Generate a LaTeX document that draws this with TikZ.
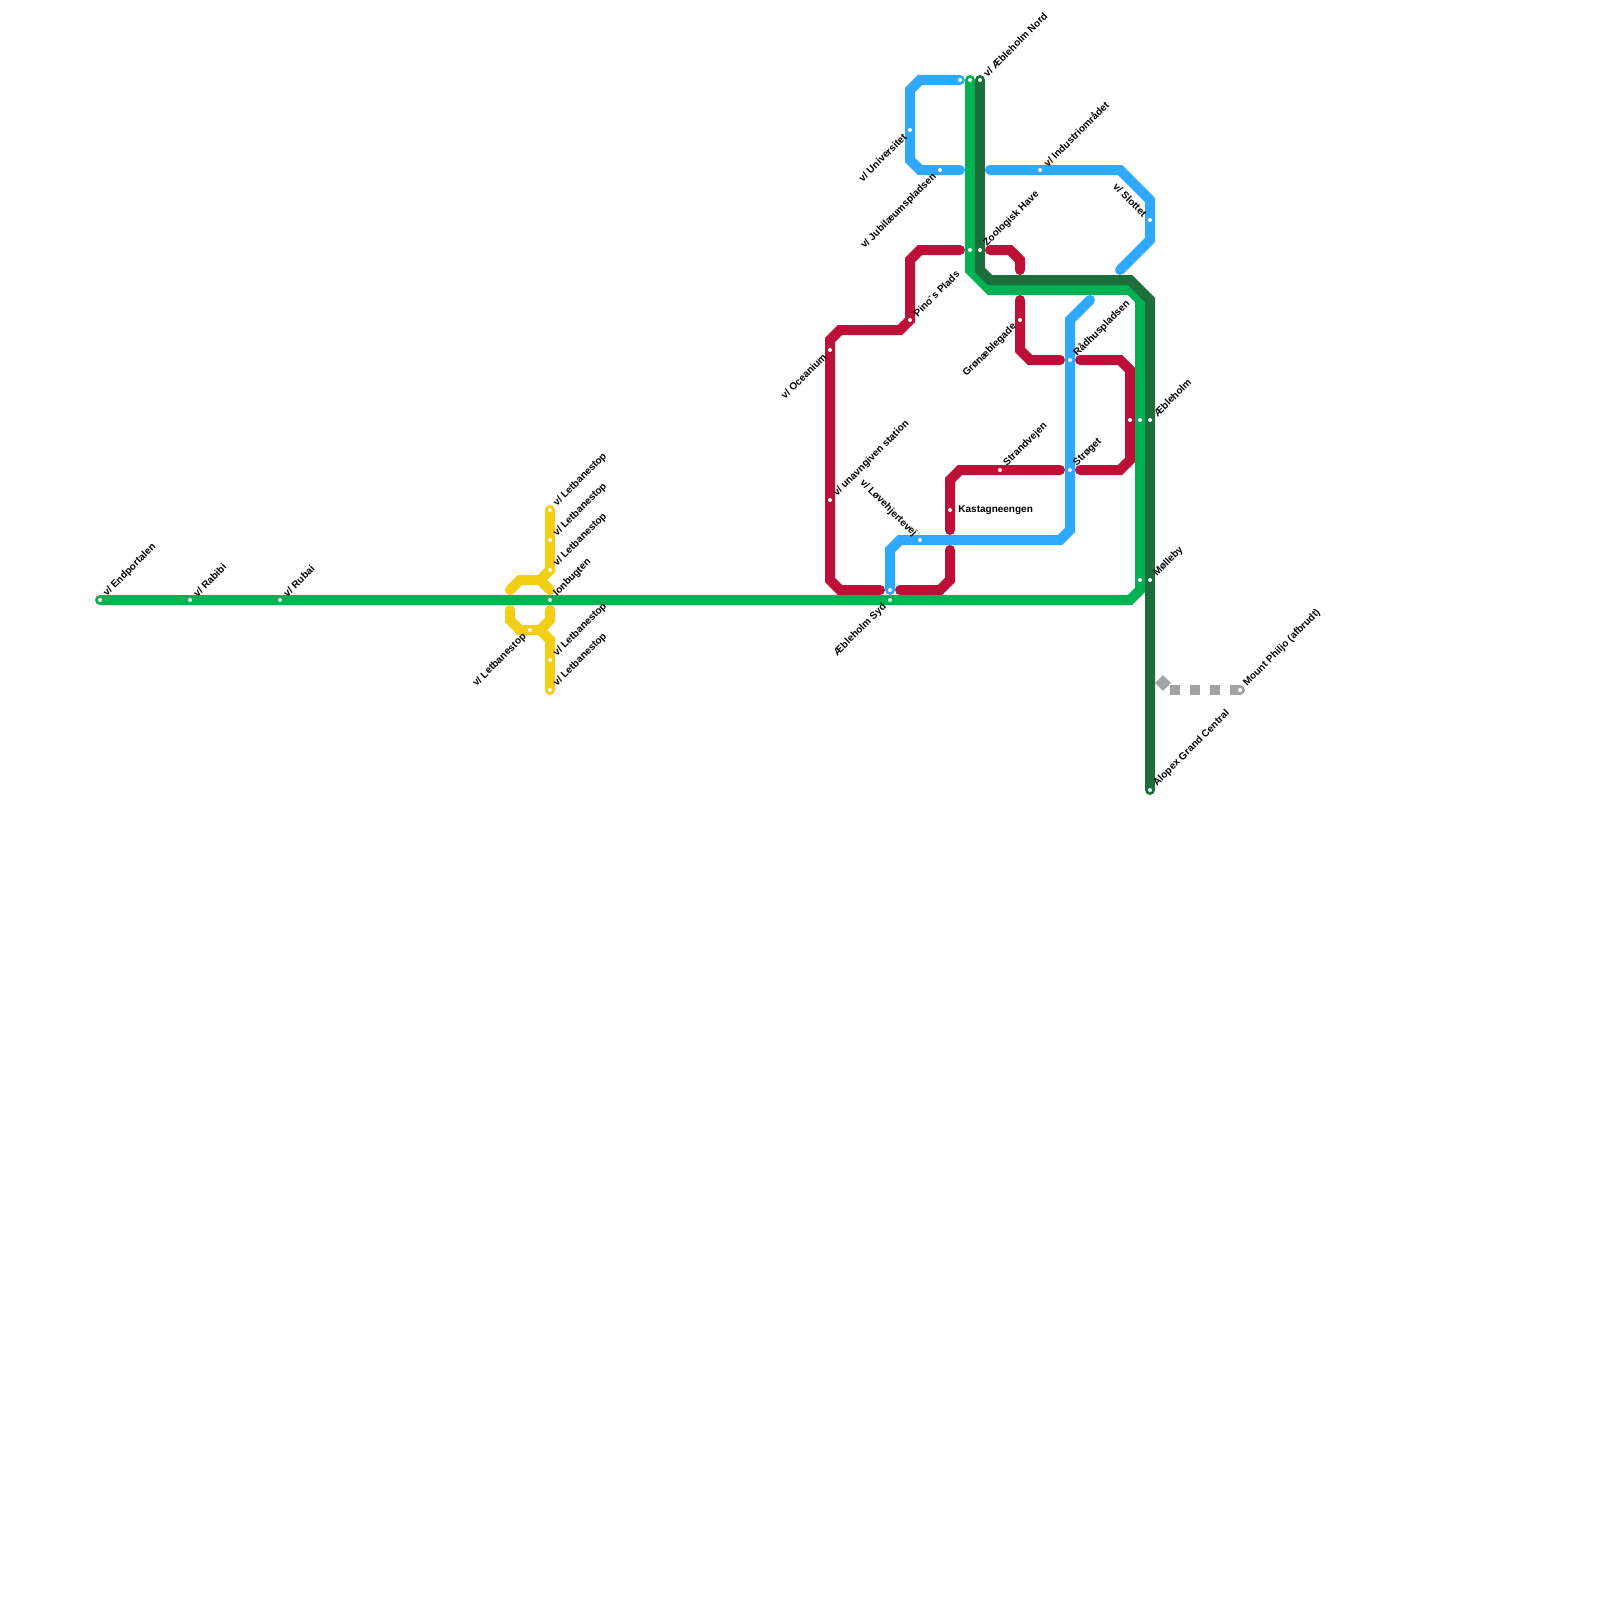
\documentclass[tikz,border=0pt]{standalone}
\usepackage{fontspec}
\setmainfont{Liberation Sans}
\usetikzlibrary{backgrounds,shapes.geometric}
\definecolor{lineGreen}{HTML}{00B251}
\definecolor{lineForest}{HTML}{1C6F3A}
\definecolor{lineBlue}{HTML}{2EA9FF}
\definecolor{lineRed}{HTML}{BD1038}
\definecolor{lineYellow}{HTML}{F2CE14}
\definecolor{lineGrey}{HTML}{A2A2A2}
\tikzset{
  stop/.style={circle,fill=white,inner sep=0pt,minimum size=2pt},
  track/.style={line width=5pt,line cap=round},
  ne/.style={font=\bfseries\fontsize{5}{6}\selectfont,rotate=45,anchor=west,inner sep=0pt,xshift=3.5pt},
  sw/.style={font=\bfseries\fontsize{5}{6}\selectfont,rotate=45,anchor=east,inner sep=0pt,xshift=-3.5pt},
  nw/.style={font=\bfseries\fontsize{5}{6}\selectfont,rotate=-45,anchor=east,inner sep=0pt,xshift=-3.3pt},
  e/.style={font=\bfseries\fontsize{5}{6}\selectfont,anchor=west,inner sep=0pt,xshift=4pt}
}
\begin{document}
\begin{tikzpicture}[x=0.5pt,y=-0.5pt]
  \useasboundingbox (0,0) rectangle (1600,1600);

  % stations
  \node[stop] (Endportalen)  at (100,600)  {};
  \node[stop] (Rabibi)       at (190,600)  {};
  \node[stop] (Rubai)        at (280,600)  {};
  \node[stop] (Ionbugten)    at (550,600)  {};
  \node[stop] (SouthGate)    at (890,600)  {};
  \node[stop] (NordGreen)    at (970,80)   {};
  \node[stop] (ZooGreen)     at (970,250)  {};
  \node[stop] (AebleGreen)   at (1140,420) {};
  \node[stop] (MolleGreen)   at (1140,580) {};
  \node[stop] (NordForest)   at (980,80)   {};
  \node[stop] (ZooForest)    at (980,250)  {};
  \node[stop] (AebleForest)  at (1150,420) {};
  \node[stop] (MolleForest)  at (1150,580) {};
  \node[stop] (Alopex)       at (1150,790) {};
  \node[stop] (NordBlue)     at (960,80)   {};
  \node[stop] (Universitet)  at (910,130)  {};
  \node[stop] (Jubilaeum)    at (940,170)  {};
  \node[stop] (Industri)     at (1040,170) {};
  \node[stop] (Slottet)      at (1150,220) {};
  \node[stop] (Raadhus)      at (1070,360) {};
  \node[stop] (Stroeget)     at (1070,470) {};
  \node[stop] (Loeve)        at (920,540)  {};
  \node[stop] (SouthBlue)    at (890,590)  {};
  \node[stop] (Pino)         at (910,320)  {};
  \node[stop] (Oceanium)     at (830,350)  {};
  \node[stop] (Unavngiven)   at (830,500)  {};
  \node[stop] (Groenne)      at (1020,320) {};
  \node[stop] (AebleRed)     at (1130,420) {};
  \node[stop] (Strandvejen)  at (1000,470) {};
  \node[stop] (Kastagneen)   at (950,510)  {};
  \node[stop] (LetA)         at (550,510)  {};
  \node[stop] (LetB)         at (550,540)  {};
  \node[stop] (LetC)         at (550,570)  {};
  \node[stop] (LetD)         at (530,630)  {};
  \node[stop] (LetE)         at (550,660)  {};
  \node[stop] (LetF)         at (550,690)  {};
  \node[stop] (Philjo)       at (1240,690) {};

  % free line ends
  \coordinate (blueJub)   at (960,170);
  \coordinate (blueInd)   at (990,170);
  \coordinate (blueEnd)   at (1120,270);
  \coordinate (blueTop)   at (1090,300);
  \coordinate (redZooW)   at (960,250);
  \coordinate (redZooE)   at (990,250);
  \coordinate (redDropA)  at (1020,270);
  \coordinate (redDropB)  at (1020,300);
  \coordinate (redRaadW)  at (1060,360);
  \coordinate (redRaadE)  at (1080,360);
  \coordinate (redStroW)  at (1060,470);
  \coordinate (redStroE)  at (1080,470);
  \coordinate (redKastS)  at (950,530);
  \coordinate (redLoopN)  at (950,550);
  \coordinate (redSouthW) at (880,590);
  \coordinate (redSouthE) at (900,590);
  \coordinate (yelUpW)    at (510,590);
  \coordinate (yelUpE)    at (550,590);
  \coordinate (yelLowW)   at (510,610);
  \coordinate (yelLowE)   at (550,610);
  \coordinate (greyEnd)   at (1170,690);

  \begin{scope}[on background layer]
    % yellow
    \draw[track,lineYellow] (yelUpW) -- (520,580) -- (540,580) -- (LetC.center) -- (LetA.center);
    \draw[track,lineYellow] (540,580) -- (yelUpE);
    \draw[track,lineYellow] (yelLowW) -- (510,620) -- (520,630) -- (540,630) -- (550,620) -- (yelLowE);
    \draw[track,lineYellow] (540,630) -- (550,640) -- (LetF.center);
    % red
    \draw[track,lineRed] (redZooW) -- (920,250) -- (910,260) -- (Pino.center) -- (900,330) -- (840,330) -- (830,340) -- (830,580) -- (840,590) -- (redSouthW);
    \draw[track,lineRed] (redZooE) -- (1010,250) -- (1020,260) -- (redDropA);
    \draw[track,lineRed] (redDropB) -- (1020,350) -- (1030,360) -- (redRaadW);
    \draw[track,lineRed] (redRaadE) -- (1120,360) -- (1130,370) -- (1130,460) -- (1120,470) -- (redStroE);
    \draw[track,lineRed] (redStroW) -- (960,470) -- (950,480) -- (redKastS);
    \draw[track,lineRed] (redLoopN) -- (950,580) -- (940,590) -- (redSouthE);
    % blue
    \draw[track,lineBlue] (NordBlue.center) -- (920,80) -- (910,90) -- (910,160) -- (920,170) -- (blueJub);
    \draw[track,lineBlue] (blueInd) -- (1120,170) -- (1150,200) -- (1150,240) -- (blueEnd);
    \draw[track,lineBlue] (blueTop) -- (1070,320) -- (1070,530) -- (1060,540) -- (900,540) -- (890,550) -- (SouthBlue.center);
    % green
    \draw[track,lineGreen] (Endportalen.center) -- (1130,600) -- (1140,590) -- (1140,300) -- (1130,290) -- (990,290) -- (970,270) -- (NordGreen.center);
    \draw[track,lineForest] (NordForest.center) -- (980,270) -- (990,280) -- (1130,280) -- (1150,300) -- (Alopex.center);
    % closed branch
    \draw[line width=5pt,lineGrey,dash pattern=on 5pt off 5pt] (greyEnd) -- (Philjo.center);
    \fill[lineGrey] (Philjo) circle (2.5pt);
  \end{scope}

  \node[diamond,fill=lineGrey,inner sep=0pt,minimum size=8pt] (ClosedMark) at (1163,683) {};

  % labels
  \node[ne] at (Endportalen) {v/ Endportalen};
  \node[ne] at (Rabibi)      {v/ Rabibi};
  \node[ne] at (Rubai)       {v/ Rubai};
  \node[ne] at (LetA)        {v/ Letbanestop};
  \node[ne] at (LetB)        {v/ Letbanestop};
  \node[ne] at (LetC)        {v/ Letbanestop};
  \node[ne] at (Ionbugten)   {Ionbugten};
  \node[ne] at (LetE)        {v/ Letbanestop};
  \node[ne] at (LetF)        {v/ Letbanestop};
  \node[sw] at (LetD)        {v/ Letbanestop};
  \node[sw] at (SouthGate)   {Æbleholm Syd};
  \node[ne] at (NordForest)  {v/ Æbleholm Nord};
  \node[sw] at (Universitet) {v/ Universitet};
  \node[sw] at (Jubilaeum)   {v/ Jubilæumspladsen};
  \node[ne] at (Industri)    {v/ Industriområdet};
  \node[nw] at (Slottet)     {v/ Slottet};
  \node[ne] at (ZooForest)   {Zoologisk Have};
  \node[ne] at (Pino)        {Pino\textasciigrave s Plads};
  \node[sw] at (Oceanium)    {v/ Oceanium};
  \node[ne] at (Unavngiven)  {v/ unavngiven station};
  \node[nw] at (Loeve)       {v/ Løvehjertevej};
  \node[e]  at (Kastagneen)  {Kastagneengen};
  \node[ne] at (Strandvejen) {Strandvejen};
  \node[sw] at (Groenne)     {Grønæblegade};
  \node[ne] at (Raadhus)     {Rådhuspladsen};
  \node[ne] at (Stroeget)    {Strøget};
  \node[ne] at (AebleForest) {Æbleholm};
  \node[ne] at (MolleForest) {Mølleby};
  \node[ne] at (Alopex)      {Alopex Grand Central};
  \node[ne] at (Philjo)      {Mount Philjo (afbrudt)};
\end{tikzpicture}
\end{document}
